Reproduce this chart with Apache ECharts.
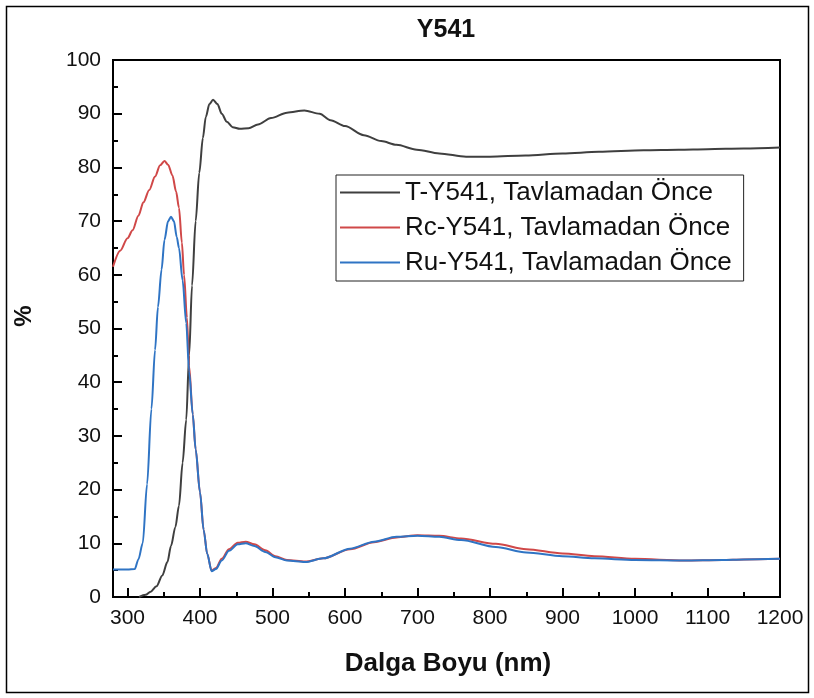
<!DOCTYPE html>
<html>
<head>
<meta charset="utf-8">
<script src="https://cdn.jsdelivr.net/npm/echarts@6/dist/echarts.min.js"></script>
<style>html,body{margin:0;padding:0;background:#fff}#c{width:814px;height:698px}</style>
</head>
<body>
<div id="c"></div>
<script>
// ---- data ----
const seriesNames = ['T-Y541, Tavlamadan Önce', 'Rc-Y541, Tavlamadan Önce', 'Ru-Y541, Tavlamadan Önce'];

const tX = [316,325,332,340,348,355,360,366,371,376,381,385,389,394,399,404,408,413,418,424,430,437,445,455,467,480,498,520,544,565,580,600,626,650,671,699,730,767,800,849,900,950,1012,1060,1100,1150,1200];
const tY = [0,0.4,1,2,4,6.5,9.5,13,17,25,33,45,58,70,79,85.5,89.4,91.8,92.6,91.8,90,88.5,87.5,87.2,87.3,88,89.2,90.2,90.6,90,88.8,87.7,86,84.9,84.2,83.3,82.6,82,82,82.2,82.6,82.9,83.2,83.3,83.4,83.5,83.7];

const rcX = [280,290,300,307,315,322,330,338,345,351,356,362,367,371,375,378,382,385,390,394,400,405,410,416,422,430,440,452,463,475,490,504,520,545,570,607,640,671,700,730,760,808,850,900,944,1000,1067,1120,1150,1200];
const rcY = [61.5,64.5,66.8,68.3,71,73.5,75.8,78.3,80.4,81.2,80.5,78.5,75.5,72.5,66,60,52,43,34,27.5,19.5,12.5,8,4.9,5.4,7.1,8.9,10.1,10.3,9.8,8.7,7.6,6.9,6.6,7.2,8.9,10.2,11.1,11.5,11.4,10.9,9.9,8.9,8.1,7.6,7.1,6.8,6.9,7,7.1];

const ruX = [280,300,310,315,321,327,333,338,342,347,351,356,360,364,368,371,376,381,385,390,394,400,405,410,416,422,430,440,452,463,475,490,504,520,545,570,607,640,671,700,730,760,808,850,900,944,1000,1067,1120,1150,1200];
const ruY = [5.1,5.1,5.2,7,10,21,35,46,54,61,66.5,70,70.8,70,67,65,59,51,42,34,27.5,19.5,12.5,8,4.8,5.2,6.8,8.6,9.8,10,9.5,8.4,7.4,6.8,6.5,7.2,9,10.3,11.2,11.4,11.2,10.6,9.3,8.3,7.6,7.2,6.9,6.8,6.9,7,7.1];

const xMajorTicks = [300,400,500,600,700,800,900,1000,1100,1200];

const zip = (xs, ys) => xs.map((x, i) => [x, ys[i]]);

const font = "'Liberation Sans', Arial, sans-serif";
const chart = echarts.init(document.getElementById('c'));
const colors = ['#3f3f3f', '#d04848', '#2f74c4'];
const tickStyle = {color: '#000', width: 2};
const hidden = {axisLine: {show: false}, axisTick: {show: false}, axisLabel: {show: false}, splitLine: {show: false}};

// plot box (pixels) and the x position of the first labelled tick (300 nm) inside it
const plotLeft = 113, plotRight = 34, plotTop = 60, plotBottom = 101;
const xMin = 280, xMax = 1200;
const plotW = 814 - plotLeft - plotRight;
const firstTickLeft = plotLeft + (300 - xMin) / (xMax - xMin) * plotW;

// tick-strip axis: split lines drawn across a thin grid act as inward ticks
function stripAxis(gridIndex, min, max, interval) {
  return {gridIndex, type: 'value', min, max, interval,
    axisLine: {show: false}, axisTick: {show: false}, axisLabel: {show: false},
    splitLine: {show: true, lineStyle: tickStyle}};
}

chart.setOption({
  animation: false,
  backgroundColor: '#fff',
  grid: [
    {left: plotLeft, right: plotRight, top: plotTop, bottom: plotBottom, show: true, borderColor: '#000', borderWidth: 2},
    {left: firstTickLeft, right: plotRight, bottom: plotBottom, height: 9, show: false},
    {left: firstTickLeft, right: plotRight, bottom: plotBottom, height: 5, show: false},
    {left: plotLeft, width: 9, top: plotTop, bottom: plotBottom, show: false},
    {left: plotLeft, width: 5, top: plotTop, bottom: plotBottom, show: false}
  ],
  xAxis: [{
    gridIndex: 0, type: 'value', min: xMin, max: xMax,
    axisLine: {show: true, lineStyle: {color: '#000', width: 2}},
    axisTick: {show: true, inside: true, length: 9, lineStyle: tickStyle, customValues: xMajorTicks},
    axisLabel: {customValues: xMajorTicks, formatter: v => String(v), margin: 11, fontSize: 21, fontFamily: font, color: '#111'},
    splitLine: {show: false}
  },
    stripAxis(1, 300, 1200, 100),
    stripAxis(2, 300, 1200, 50),
    Object.assign({gridIndex: 3, type: 'value', min: 0, max: 1}, hidden),
    Object.assign({gridIndex: 4, type: 'value', min: 0, max: 1}, hidden)
  ],
  yAxis: [{
    gridIndex: 0, type: 'value', min: 0, max: 100, interval: 10,
    axisLine: {show: true, lineStyle: {color: '#000', width: 2}},
    axisTick: {show: true, inside: true, length: 9, lineStyle: tickStyle},
    minorTick: {show: true, splitNumber: 2, length: 5, lineStyle: tickStyle},
    axisLabel: {margin: 12, fontSize: 21, fontFamily: font, color: '#111'},
    splitLine: {show: false}
  },
    Object.assign({gridIndex: 1, type: 'value', min: 0, max: 1}, hidden),
    Object.assign({gridIndex: 2, type: 'value', min: 0, max: 1}, hidden),
    stripAxis(3, 0, 100, 10),
    stripAxis(4, 0, 100, 5)
  ],
  legend: {
    orient: 'vertical', left: 336, top: 175,
    data: seriesNames,
    icon: 'rect',
    itemWidth: 60, itemHeight: 2, itemGap: 6,
    textStyle: {fontSize: 26, fontFamily: font, color: '#111', lineHeight: 29},
    borderColor: '#222', borderWidth: 1, padding: [3, 12, 4, 4],
    backgroundColor: '#fff'
  },
  graphic: [
    {type: 'rect', shape: {x: 6.5, y: 6.5, width: 802, height: 686}, style: {fill: 'none', stroke: '#000', lineWidth: 1.5}, silent: true, z: 100},
    {type: 'text', x: 446, y: 30, style: {text: 'Y541', font: "bold 25px 'Liberation Sans', Arial, sans-serif", fill: '#111', textAlign: 'center', textVerticalAlign: 'middle'}},
    {type: 'text', x: 448, y: 664, style: {text: 'Dalga Boyu (nm)', font: "bold 26px 'Liberation Sans', Arial, sans-serif", fill: '#111', textAlign: 'center', textVerticalAlign: 'middle'}},
    {type: 'text', x: 24, y: 316, rotation: Math.PI / 2, style: {text: '%', font: "bold 24px 'Liberation Sans', Arial, sans-serif", fill: '#111', textAlign: 'center', textVerticalAlign: 'middle'}}
  ],
  series: [
    {name: seriesNames[0], type: 'line', xAxisIndex: 0, yAxisIndex: 0, data: zip(tX, tY), symbol: 'none', smooth: 0.3, smoothMonotone: 'x', lineStyle: {color: colors[0], width: 2}, itemStyle: {color: colors[0]}, clip: true},
    {name: seriesNames[1], type: 'line', xAxisIndex: 0, yAxisIndex: 0, data: zip(rcX, rcY), symbol: 'none', smooth: 0.3, smoothMonotone: 'x', lineStyle: {color: colors[1], width: 2}, itemStyle: {color: colors[1]}, clip: true},
    {name: seriesNames[2], type: 'line', xAxisIndex: 0, yAxisIndex: 0, data: zip(ruX, ruY), symbol: 'none', smooth: 0.3, smoothMonotone: 'x', lineStyle: {color: colors[2], width: 2}, itemStyle: {color: colors[2]}, clip: true}
  ]
});
</script>
</body>
</html>
